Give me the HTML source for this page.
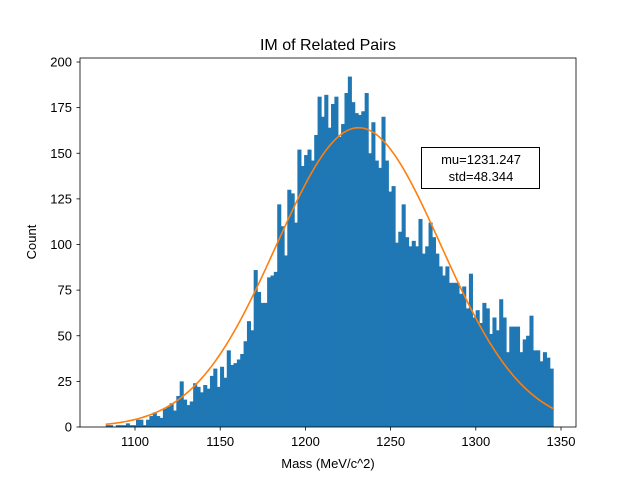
<!DOCTYPE html>
<html><head><meta charset="utf-8"><style>
body{margin:0;background:#fff;}
text{font-family:"Liberation Sans","DejaVu Sans",sans-serif;}
</style></head><body>
<svg id="chart" width="640" height="480" xmlns="http://www.w3.org/2000/svg">
<rect width="640" height="480" fill="#fff"/>
<g id="bars"></g>
<path id="fit" fill="none" stroke="#ff7f0e" stroke-width="1.6"/>
<rect x="80" y="58" width="496" height="369" fill="none" stroke="#000" stroke-width="0.8"/>
<g id="xticks"></g>
<g id="yticks"></g>
<text x="328" y="50" font-size="16" text-anchor="middle">IM of Related Pairs</text>
<text x="328" y="468" font-size="13" text-anchor="middle">Mass (MeV/c^2)</text>
<text x="36" y="242" font-size="13" text-anchor="middle" transform="rotate(-90 36 242)">Count</text>
<g>
<rect x="421.5" y="147.5" width="118" height="41" fill="#fff" stroke="#000" stroke-width="1"/>
<text x="481" y="164" font-size="13" text-anchor="middle">mu=1231.247</text>
<text x="481" y="181" font-size="13" text-anchor="middle">std=48.344</text>
</g>
</svg>
<script>
const counts = [1,1,0,1,1,1,2,1,1,4,4,1,4,6,8,6,5,10,11,13,9,17,25,15,12,14,24,22,19,23,21,28,32,22,33,27,42,34,35,37,40,47,58,53,86,74,68,68,82,83,85,122,110,94,130,128,112,152,143,149,152,146,160,181,170,182,164,177,181,159,166,183,192,178,172,171,173,183,150,167,146,142,170,146,129,132,101,107,122,104,99,102,99,114,95,99,112,104,95,88,83,88,79,79,79,73,77,65,84,60,64,57,68,65,51,60,53,70,60,41,55,55,55,41,48,50,61,42,42,36,41,38,32];
const binMin = 1082.8, binMax = 1345.3;
const fitMu = 1231.247, fitStd = 48.344, fitPeak = 164;
const xTicks = [1100,1150,1200,1250,1300,1350];
const yTicks = [0,25,50,75,100,125,150,175,200];

const NS="http://www.w3.org/2000/svg";
const X = v => 135 + (v-1100)*426/250;
const Y = v => 427 - v*365/200;
const bw = (binMax-binMin)/counts.length;
const gb = document.getElementById('bars');
counts.forEach((c,i)=>{
  const r=document.createElementNS(NS,'rect');
  const x0=X(binMin+i*bw), x1=X(binMin+(i+1)*bw);
  r.setAttribute('x',x0);r.setAttribute('width',x1-x0+0.7);
  r.setAttribute('y',Y(c));r.setAttribute('height',Y(0)-Y(c));
  r.setAttribute('fill','#1f77b4');
  
  
  gb.appendChild(r);
});
let d='';
for(let k=0;k<=200;k++){
  const v=binMin+(binMax-binMin)*k/200;
  const y=fitPeak*Math.exp(-((v-fitMu)**2)/(2*fitStd*fitStd));
  d+=(k?'L':'M')+X(v).toFixed(2)+' '+Y(y).toFixed(2);
}
document.getElementById('fit').setAttribute('d',d);
const gx=document.getElementById('xticks');
xTicks.forEach(t=>{
  const l=document.createElementNS(NS,'line');
  l.setAttribute('x1',X(t));l.setAttribute('x2',X(t));l.setAttribute('y1',427);l.setAttribute('y2',430.5);
  l.setAttribute('stroke','#000');l.setAttribute('stroke-width','0.8');
  
  
  gx.appendChild(l);
  const s=document.createElementNS(NS,'text');
  s.setAttribute('x',X(t));s.setAttribute('y',446);s.setAttribute('font-size','13');s.setAttribute('text-anchor','middle');
  s.textContent=t;
  
  
  gx.appendChild(s);
});
const gy=document.getElementById('yticks');
yTicks.forEach(t=>{
  const l=document.createElementNS(NS,'line');
  l.setAttribute('x1',76.5);l.setAttribute('x2',80);l.setAttribute('y1',Y(t));l.setAttribute('y2',Y(t));
  l.setAttribute('stroke','#000');l.setAttribute('stroke-width','0.8');
  
  
  gy.appendChild(l);
  const s=document.createElementNS(NS,'text');
  s.setAttribute('x',72);s.setAttribute('y',Y(t)+4.5);s.setAttribute('font-size','13');s.setAttribute('text-anchor','end');
  s.textContent=t;
  
  
  gy.appendChild(s);
});
</script>
</body></html>
